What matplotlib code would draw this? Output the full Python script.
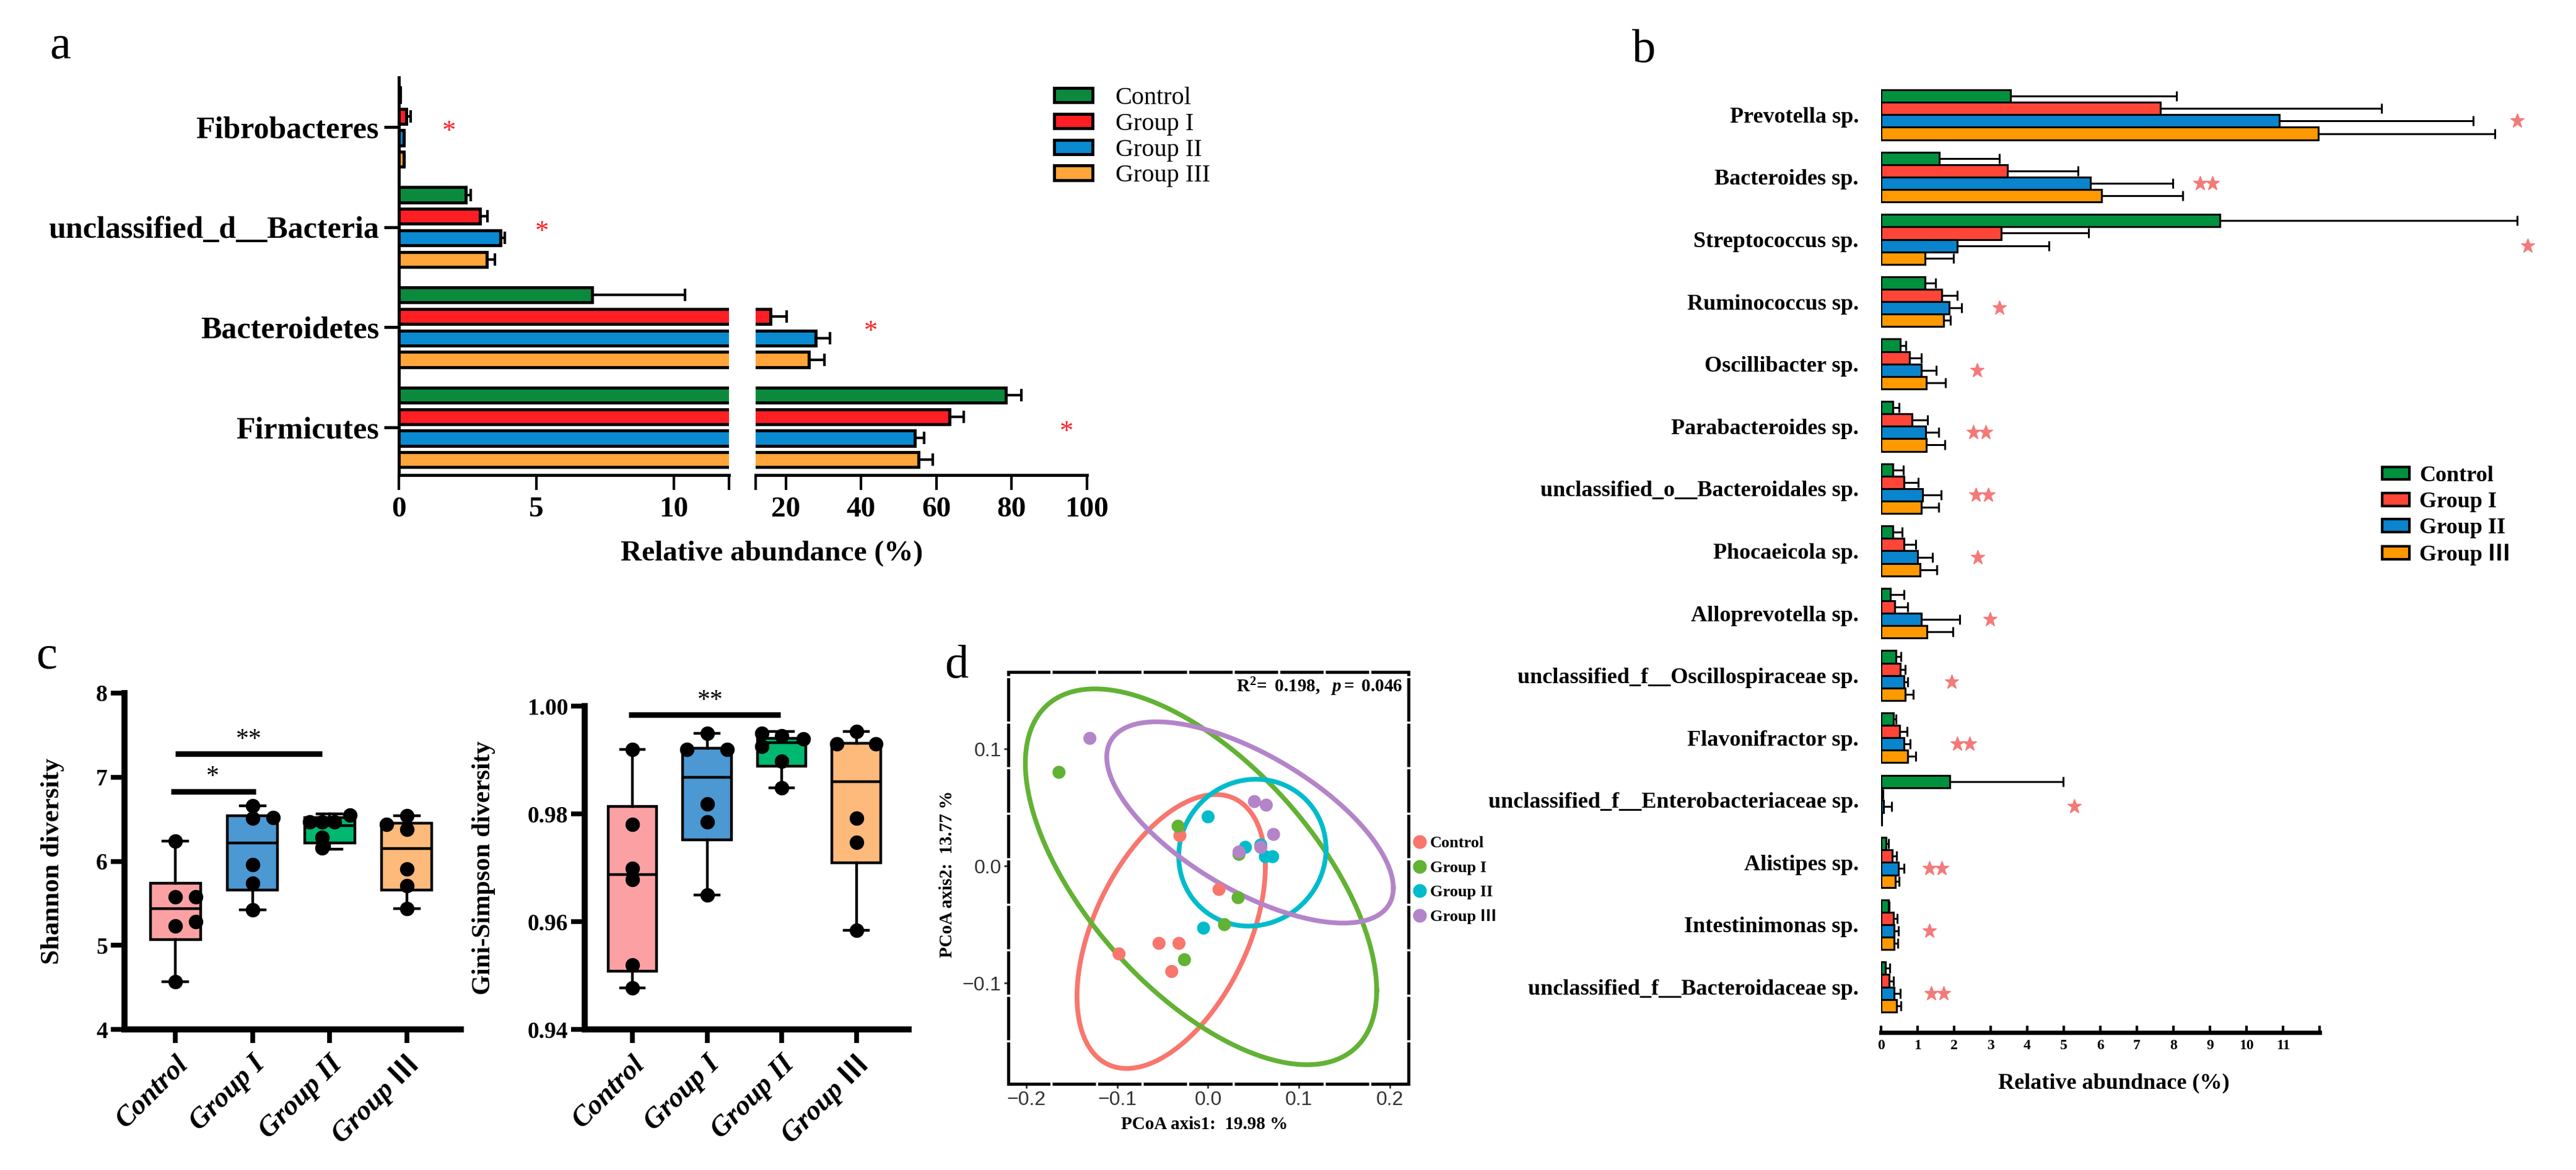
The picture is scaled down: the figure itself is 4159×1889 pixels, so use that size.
import numpy as np
import matplotlib
matplotlib.use("Agg")
import matplotlib.pyplot as plt
import matplotlib.transforms as mtransforms
from matplotlib.patches import Patch
from matplotlib.lines import Line2D

plt.rcParams['font.family'] = ['Liberation Serif', 'Noto Sans CJK SC', 'DejaVu Serif']
plt.rcParams['mathtext.fontset'] = 'custom'
plt.rcParams['mathtext.rm'] = 'Liberation Serif'
plt.rcParams['mathtext.bf'] = 'Liberation Serif:bold'
plt.rcParams['mathtext.it'] = 'Liberation Serif:italic:bold'

W, H = 4159, 1889

# ---------------- data ----------------
groups = ['Control', 'Group I', 'Group II', 'Group III']
groups_cjk = ['Control', 'Group I', 'Group II', 'Group \u2162']

# panel a: phylum level (top to bottom)
phyla = ['Fibrobacteres', 'unclassified_d__Bacteria', 'Bacteroidetes', 'Firmicutes']
a_ctrl = [0.05, 2.43, 7.03, 78.5]
a_g1 = [0.28, 2.95, 16.0, 63.5]
a_g2 = [0.18, 3.70, 27.9, 54.2]
a_g3 = [0.17, 3.20, 26.2, 55.2]
a_ctrl_sd = [0.02, 0.18, 3.37, 4.1]
a_g1_sd = [0.14, 0.28, 4.3, 3.8]
a_g2_sd = [0.03, 0.15, 3.8, 2.5]
a_g3_sd = [0.03, 0.30, 4.0, 3.8]
a_star_x = [1.83, 5.2, 42.6, 94.6]

# panel b: genus level (top to bottom)
species = ['Prevotella sp.', 'Bacteroides sp.', 'Streptococcus sp.', 'Ruminococcus sp.',
           'Oscillibacter sp.', 'Parabacteroides sp.', 'unclassified_o__Bacteroidales sp.',
           'Phocaeicola sp.', 'Alloprevotella sp.', 'unclassified_f__Oscillospiraceae sp.',
           'Flavonifractor sp.', 'unclassified_f__Enterobacteriaceae sp.', 'Alistipes sp.',
           'Intestinimonas sp.', 'unclassified_f__Bacteroidaceae sp.']
b_ctrl = [3.55, 1.60, 9.27, 1.20, 0.52, 0.32, 0.32, 0.32, 0.25, 0.41, 0.34, 1.88, 0.14, 0.20, 0.12]
b_g1 = [7.65, 3.46, 3.28, 1.66, 0.78, 0.84, 0.62, 0.62, 0.37, 0.52, 0.51, 0.02, 0.30, 0.34, 0.22]
b_g2 = [10.9, 5.73, 2.09, 1.86, 1.11, 1.22, 1.13, 1.00, 1.11, 0.63, 0.63, 0.06, 0.47, 0.35, 0.35]
b_g3 = [11.96, 6.03, 1.20, 1.71, 1.23, 1.23, 1.11, 1.06, 1.25, 0.66, 0.73, 0.01, 0.39, 0.35, 0.42]
b_ctrl_sd = [4.54, 1.64, 8.13, 0.29, 0.16, 0.17, 0.29, 0.25, 0.38, 0.13, 0.06, 3.10, 0.06, 0.02, 0.12]
b_g1_sd = [6.05, 1.93, 2.40, 0.43, 0.32, 0.43, 0.39, 0.33, 0.36, 0.14, 0.20, 0.03, 0.12, 0.10, 0.12]
b_g2_sd = [5.30, 2.26, 2.50, 0.35, 0.39, 0.35, 0.51, 0.40, 1.05, 0.10, 0.16, 0.22, 0.16, 0.12, 0.17]
b_g3_sd = [4.84, 2.23, 0.78, 0.18, 0.53, 0.51, 0.46, 0.46, 0.71, 0.22, 0.22, 0.01, 0.10, 0.11, 0.12]
b_sig_n = [1, 2, 1, 1, 1, 2, 2, 1, 1, 1, 2, 1, 2, 1, 2]
b_sig_x = [17.4, 8.9, 17.7, 3.23, 2.62, 2.7, 2.77, 2.64, 2.99, 1.93, 2.25, 5.29, 1.49, 1.32, 1.54]

# panel c: alpha diversity, box stats and samples
sh_whislo = [4.57, 5.42, 6.14, 5.44]
sh_q1 = [5.07, 5.66, 6.22, 5.66]
sh_med = [5.44, 6.22, 6.42, 6.15]
sh_q3 = [5.74, 6.54, 6.52, 6.45]
sh_whishi = [6.24, 6.66, 6.56, 6.54]
sh_points = [[6.24, 5.58, 5.58, 5.23, 5.28, 4.57],
             [6.66, 6.51, 6.52, 5.96, 5.74, 5.42],
             [6.47, 6.47, 6.47, 6.55, 6.28, 6.16],
             [6.44, 6.54, 6.38, 5.91, 5.71, 5.44]]
sh_jitter = [[0, 0, 0.26, 0, 0.26, 0],
             [0, 0, 0.27, 0, 0, 0],
             [-0.26, -0.1, 0.06, 0.26, -0.1, -0.1],
             [-0.26, 0, 0, 0, 0, 0]]

gs_whislo = [0.9477, 0.965, 0.9848, 0.9584]
gs_q1 = [0.9508, 0.9752, 0.9889, 0.9709]
gs_med = [0.9687, 0.9868, 0.9932, 0.9860]
gs_q3 = [0.9814, 0.9922, 0.9940, 0.9931]
gs_whishi = [0.9919, 0.9950, 0.9953, 0.9953]
gs_points = [[0.9919, 0.978, 0.9699, 0.9678, 0.9519, 0.9477],
             [0.9950, 0.9920, 0.9920, 0.9818, 0.9785, 0.9650],
             [0.9950, 0.9945, 0.9939, 0.9925, 0.9898, 0.9848],
             [0.9930, 0.9953, 0.9930, 0.9792, 0.9747, 0.9584]]
gs_jitter = [[0, 0, 0, 0, 0, 0],
             [0, -0.27, 0.27, 0, 0, 0],
             [-0.27, 0, 0.29, -0.27, 0, 0],
             [-0.26, 0, 0.26, 0, 0, 0]]

# panel d: PCoA
pc_x = [[-0.031, 0.012, -0.098, -0.054, -0.032, -0.040],
        [-0.164, -0.033, 0.034, 0.033, 0.018, -0.026],
        [0.000, 0.041, 0.058, 0.063, 0.071, -0.005],
        [-0.130, 0.051, 0.064, 0.072, 0.058, 0.034]]
pc_y = [[0.026, -0.020, -0.075, -0.066, -0.066, -0.090],
        [0.080, 0.034, 0.010, -0.027, -0.050, -0.080],
        [0.042, 0.016, 0.018, 0.008, 0.008, -0.053],
        [0.109, 0.055, 0.052, 0.027, 0.016, 0.012]]
ell_cx = [-0.0406, -0.0078, 0.0487, 0.0461]
ell_cy = [-0.0559, -0.0092, 0.0114, 0.0372]
ell_sxx = [0.01073, 0.03733, 0.00656, 0.02484]
ell_sxy = [0.00573, -0.01872, 0.00025, -0.00881]
ell_syy = [0.01367, 0.02573, 0.00393, 0.00738]

col_a = ['#0B8A3E', '#FF1E24', '#0A8AD1', '#FFA53A']
col_b = ['#00913F', '#FF4538', '#0A84CC', '#FF9900']
col_c = ['#FBA1A4', '#4C98D3', '#00B870', '#FDBA7B']
col_d = ['#F8766D', '#62B234', '#00BCCB', '#B484C9']

fig = plt.figure(figsize=(W / 100, H / 100), dpi=100)


def add_ax(x0, y0, x1, y1):
    return fig.add_axes([x0 / W, 1 - y1 / H, (x1 - x0) / W, (y1 - y0) / H])


def ftext(x, y, s, **kw):
    fig.text(x / W, 1 - y / H, s, **kw)


# ---------------- panel a ----------------
ax_l = add_ax(644, 125, 1177, 767)
ax_r = add_ax(1220, 125, 1755, 767)
ycen = np.arange(len(phyla))[::-1]
a_means = [a_ctrl, a_g1, a_g2, a_g3]
a_sds = [a_ctrl_sd, a_g1_sd, a_g2_sd, a_g3_sd]
for ax in (ax_l, ax_r):
    for gi in range(4):
        yy = ycen + (1.5 - gi) * 0.215
        ax.barh(yy, a_means[gi], height=0.15, color=col_a[gi], edgecolor='black', linewidth=3.5)
        ax.errorbar(a_means[gi], yy, xerr=[np.zeros(4), a_sds[gi]], fmt='none', ecolor='black',
                    elinewidth=3, capsize=7, capthick=3)
    ax.set_ylim(-0.476, 3.495)
    for s in ['top', 'right']:
        ax.spines[s].set_visible(False)
    ax.spines['bottom'].set_linewidth(3.5)
    ax.tick_params(axis='x', length=17, width=3, pad=8, labelsize=34)
ax_r.spines['left'].set_visible(False)
ax_l.spines['left'].set_linewidth(3.5)
ax_l.set_xlim(0, 12)
ax_r.set_xlim(12, 100)
ax_l.set_xticks([0, 5, 10, 12])
ax_l.set_xticklabels(['0', '5', '10', ''], fontweight='bold')
ax_r.set_xticks([12, 20, 40, 60, 80, 100])
ax_r.set_xticklabels(['', '20', '40', '60', '80', '100'], fontweight='bold')
ax_l.set_yticks(ycen)
ax_l.set_yticklabels(phyla, fontsize=36, fontweight='bold')
ax_l.tick_params(axis='y', length=17, width=3.5, pad=6)
ax_r.set_yticks([])
for i, sx in enumerate(a_star_x):
    ax = ax_l if sx < 12 else ax_r
    ax.text(sx, ycen[i] - 0.05, '*', color='#FF1E24', fontsize=32, ha='center', va='center')
ftext(1246, 894, 'Relative abundance (%)', fontsize=34, fontweight='bold', ha='center', va='center')
fig.legend([Patch(facecolor=c, edgecolor='black', linewidth=3.5) for c in col_a], groups,
           loc='upper left', bbox_to_anchor=(1702 / W, 1 - 140 / H), frameon=False, fontsize=29,
           handlelength=1.55, handleheight=0.52, handletextpad=0.9, labelspacing=0.12,
           borderpad=0, borderaxespad=0)

# ---------------- panel b ----------------
ax_b = add_ax(3037, 130, 3745, 1667)
yb = np.arange(len(species))
b_means = [b_ctrl, b_g1, b_g2, b_g3]
b_sds = [b_ctrl_sd, b_g1_sd, b_g2_sd, b_g3_sd]
for gi in range(4):
    yy = yb + (gi - 1.5) * 0.2
    ax_b.barh(yy, b_means[gi], height=0.2, color=col_b[gi], edgecolor='black', linewidth=2.2)
    eb = ax_b.errorbar(b_means[gi], yy, xerr=[np.zeros(len(yb)), b_sds[gi]], fmt='none',
                       ecolor='black', elinewidth=2.2, capsize=6, capthick=2.2)
    for art in list(eb.lines[1]) + list(eb.lines[2]):
        art.set_clip_on(False)
for i, n in enumerate(b_sig_n):
    xs = [b_sig_x[i]] if n == 1 else [b_sig_x[i] - 0.17, b_sig_x[i] + 0.17]
    ax_b.plot(xs, [yb[i] + 0.1] * n, ls='none', marker='*', ms=17, color='#F47A7A',
              markeredgecolor='#F47A7A', clip_on=False)
ax_b.set_xlim(0, 12)
ax_b.set_ylim(14.73, -0.55)
for s in ['top', 'right', 'left']:
    ax_b.spines[s].set_visible(False)
ax_b.spines['bottom'].set_linewidth(5)
ax_b.set_xticks(range(13))
ax_b.set_xticklabels([str(i) for i in range(12)] + [''], fontsize=17, fontweight='bold')
ax_b.tick_params(axis='x', direction='in', length=8, width=3, pad=8)
ax_b.set_yticks(yb)
ax_b.set_yticklabels(species, fontsize=26, fontweight='bold')
ax_b.tick_params(axis='y', length=0, pad=26)
ftext(3413, 1749, 'Relative abundnace (%)', fontsize=26, fontweight='bold', ha='center', va='center')
fig.legend([Patch(facecolor=c, edgecolor='black', linewidth=3) for c in col_b], groups_cjk,
           loc='upper left', bbox_to_anchor=(3846 / W, 1 - 752 / H), frameon=False,
           prop={'size': 26, 'weight': 'bold'}, handlelength=1.22, handleheight=0.5,
           handletextpad=0.45, labelspacing=0.25, borderpad=0, borderaxespad=0)

# ---------------- panel c ----------------
label_shift = mtransforms.ScaledTranslation(10 / 72, -6 / 72, fig.dpi_scale_trans)


def box_panel(ax, whislo, q1, med, q3, whishi, points, jitter):
    stats = [dict(whislo=whislo[i], q1=q1[i], med=med[i], q3=q3[i], whishi=whishi[i], fliers=[])
             for i in range(4)]
    bp = ax.bxp(stats, positions=range(4), widths=0.65, patch_artist=True, showfliers=False,
                capwidths=0.32,
                boxprops=dict(linewidth=3.2, edgecolor='black'),
                whiskerprops=dict(linewidth=3.2), capprops=dict(linewidth=3.2),
                medianprops=dict(color='black', linewidth=3.2))
    for patch, c in zip(bp['boxes'], col_c):
        patch.set_facecolor(c)
    for i in range(4):
        ax.scatter(np.array(jitter[i]) + i, points[i], s=250, color='black', zorder=4, clip_on=False)
    ax.set_xlim(-0.66, 3.7)
    for s in ['top', 'right']:
        ax.spines[s].set_visible(False)
    for s in ['left', 'bottom']:
        ax.spines[s].set_linewidth(7)
    ax.tick_params(axis='both', length=16, width=5.5, labelsize=27)
    ax.tick_params(axis='x', pad=14)
    ax.set_xticks(range(4))
    ax.set_xticklabels(groups_cjk, rotation=45, ha='right', va='center', rotation_mode='anchor',
                       fontsize=33, fontweight='bold', fontstyle='italic')
    for lab in ax.get_xticklabels():
        lab.set_transform(lab.get_transform() + label_shift)
    for lab in ax.get_yticklabels():
        lab.set_fontweight('bold')


ax_sh = add_ax(201, 1119, 744, 1662)
box_panel(ax_sh, sh_whislo, sh_q1, sh_med, sh_q3, sh_whishi, sh_points, sh_jitter)
ax_sh.set_ylim(4, 8)
ax_sh.set_yticks([4, 5, 6, 7, 8])
ax_sh.set_yticklabels(['4', '5', '6', '7', '8'], fontweight='bold')
ax_sh.text(-0.214, 0.5, 'Shannon diversity', transform=ax_sh.transAxes, rotation=90, ha='center',
           va='center', fontsize=31, fontweight='bold')
ax_sh.plot([-0.06, 1.04], [6.83, 6.83], color='black', lw=6.5, solid_capstyle='butt', clip_on=False)
ax_sh.text(0.48, 7.0, '*', ha='center', va='center', fontsize=30)
ax_sh.plot([0.0, 1.9], [7.28, 7.28], color='black', lw=6.5, solid_capstyle='butt', clip_on=False)
ax_sh.text(0.95, 7.44, '**', ha='center', va='center', fontsize=30)

ax_gs = add_ax(944, 1140, 1467, 1662)
box_panel(ax_gs, gs_whislo, gs_q1, gs_med, gs_q3, gs_whishi, gs_points, gs_jitter)
ax_gs.set_xlim(-0.64, 3.7)
ax_gs.set_ylim(0.94, 1.00)
ax_gs.set_yticks([0.94, 0.96, 0.98, 1.00])
ax_gs.set_yticklabels(['0.94', '0.96', '0.98', '1.00'], fontweight='bold')
ax_gs.text(-0.312, 0.5, 'Gini-Simpson diversity', transform=ax_gs.transAxes, rotation=90,
           ha='center', va='center', fontsize=30, fontweight='bold')
ax_gs.plot([-0.05, 1.98], [0.9984, 0.9984], color='black', lw=6.5, solid_capstyle='butt', clip_on=False)
ax_gs.text(1.04, 1.0009, '**', ha='center', va='center', fontsize=30)

# ---------------- panel d ----------------
ax_d = add_ax(1628, 1085, 2274, 1750)
t = np.linspace(0, 2 * np.pi, 300)
for gi in range(4):
    ax_d.scatter(pc_x[gi], pc_y[gi], s=230, color=col_d[gi], edgecolors='none', zorder=3)
    m = np.array([[ell_sxx[gi], ell_sxy[gi]], [ell_sxy[gi], ell_syy[gi]]])
    L = np.linalg.cholesky(m)
    pts = L @ np.vstack([np.cos(t), np.sin(t)])
    ax_d.plot(pts[0] + ell_cx[gi], pts[1] + ell_cy[gi], color=col_d[gi], lw=5.5, zorder=2)
ax_d.set_xlim(-0.2197, 0.2204)
ax_d.set_ylim(-0.186, 0.1656)
for s in ax_d.spines.values():
    s.set_linewidth(3.6)
    s.set_linestyle((0, (13, 1.7)))
ax_d.set_xticks([-0.2, -0.1, 0.0, 0.1, 0.2])
ax_d.set_xticklabels(['\u22120.2', '\u22120.1', '0.0', '0.1', '0.2'], family='Liberation Sans')
ax_d.set_yticks([-0.1, 0.0, 0.1])
ax_d.set_yticklabels(['\u22120.1', '0.0', '0.1'], family='Liberation Sans')
ax_d.tick_params(axis='both', length=5, width=2, colors='#333333', labelsize=23, pad=3)
ax_d.text(0.49, -0.099, 'PCoA axis1:  19.98 %', transform=ax_d.transAxes, ha='center', va='center',
          fontsize=21, fontweight='bold')
ax_d.text(-0.152, 0.51, 'PCoA axis2:  13.77 %', transform=ax_d.transAxes, rotation=90, ha='center',
          va='center', fontsize=21, fontweight='bold')
ax_d.text(0.986, 0.965, r'$\mathbf{R^2\!=\ 0.198,}\ \ \mathit{p}\mathbf{=\ 0.046}$', transform=ax_d.transAxes,
          ha='right', va='center', fontsize=21)
fig.legend([Line2D([], [], ls='none', marker='o', ms=15, color=c) for c in col_d], groups_cjk,
           loc='upper left', bbox_to_anchor=(2284 / W, 1 - 1350 / H), frameon=False,
           prop={'size': 19, 'weight': 'bold'}, handlelength=0.6, handletextpad=0.35,
           labelspacing=0.6, borderpad=0, borderaxespad=0)

# panel letters
ftext(80, 94, 'a', fontsize=55)
ftext(2635, 100, 'b', fontsize=55)
ftext(58, 1079, 'c', fontsize=55)
ftext(1525, 1094, 'd', fontsize=55)

fig.savefig('out.png', dpi=100)
